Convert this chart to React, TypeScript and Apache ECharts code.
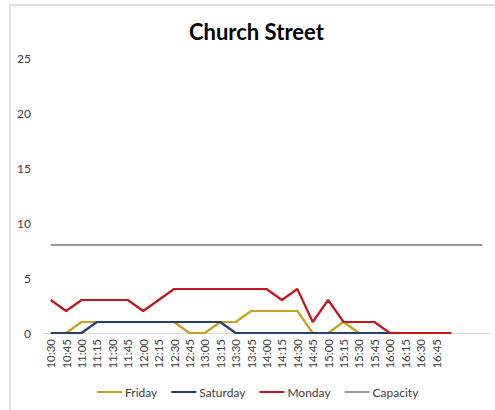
import React, { useEffect, useRef } from "react";
import * as echarts from "echarts";

const times = [
  "10:30","10:45","11:00","11:15","11:30","11:45","12:00","12:15","12:30","12:45",
  "13:00","13:15","13:30","13:45","14:00","14:15","14:30","14:45","15:00","15:15",
  "15:30","15:45","16:00","16:15","16:30","16:45","","","",
];
const friday = [0,0,1,1,1,1,1,1,1,0,0,1,1,2,2,2,2,0,0,1,0];
const saturday = [0,0,0,1,1,1,1,1,1,1,1,1,0,0,0,0,0,0,0,0,0,0,0];
const monday = [3,2,3,3,3,3,2,3,4,4,4,4,4,4,4,3,4,1,3,1,1,1,0,0,0,0,0];
const capacity = [8,8,8,8,8,8,8,8,8,8,8,8,8,8,8,8,8,8,8,8,8,8,8,8,8,8,8,8,8];
const yTicks = { min: 0, max: 25, interval: 5 };

const FONT = "Lato, 'Open Sans', sans-serif";

export default function App() {
  const ref = useRef<HTMLDivElement>(null);
  useEffect(() => {
    const chart = echarts.init(ref.current!, null, { renderer: "svg" });
    const line = (name: string, data: number[], color: string) => ({
      name,
      type: "line",
      data,
      symbol: "none",
      lineStyle: { color, width: 2.2 },
      itemStyle: { color },
    });
    chart.setOption({
      animation: false,
      backgroundColor: "#fff",
      title: {
        text: "Church Street",
        left: 184,
        top: 15,
        textStyle: { fontFamily: FONT, fontSize: 22, fontWeight: "bold", color: "#000" },
      },
      grid: { left: 43, right: 5, top: 58, bottom: 77 },
      xAxis: {
        type: "category",
        data: times,
        boundaryGap: true,
        axisLine: { show: true, lineStyle: { color: "#D9D9D9", width: 1 } },
        axisTick: { show: false },
        axisLabel: {
          rotate: 90,
          interval: 0,
          margin: 6,
          color: "#404040",
          fontFamily: FONT,
          fontSize: 11.5,
        },
      },
      yAxis: {
        type: "value",
        min: yTicks.min,
        max: yTicks.max,
        interval: yTicks.interval,
        splitLine: { show: false },
        axisLine: { show: false },
        axisTick: { show: false },
        axisLabel: { color: "#404040", fontFamily: FONT, fontSize: 12, margin: 12 },
      },
      legend: {
        top: 381,
        left: 92,
        icon: "rect",
        itemWidth: 25,
        itemHeight: 2,
        itemGap: 14,
        textStyle: { color: "#404040", fontFamily: FONT, fontSize: 12, padding: [0, 0, 0, -2] },
        data: ["Friday", "Saturday", "Monday", "Capacity"],
      },
      series: [
        line("Friday", friday, "#C9A020"),
        line("Saturday", saturday, "#23406E"),
        line("Monday", monday, "#C8141B"),
        line("Capacity", capacity, "#9A9A9A"),
      ],
    });
    return () => chart.dispose();
  }, []);
  return (
    <div style={{ position: "fixed", left: 0, top: 0, width: 495, height: 410 }}>
      <div
        ref={ref}
        style={{ position: "absolute", left: 0, top: 0, width: 495, height: 410 }}
      />
      <div
        style={{
          position: "absolute",
          left: 9,
          top: 4,
          width: 486,
          height: 406,
          borderLeft: "2px solid #E0E0E0",
          borderTop: "2px solid #E0E0E0",
          boxSizing: "border-box",
          pointerEvents: "none",
        }}
      />
    </div>
  );
}
